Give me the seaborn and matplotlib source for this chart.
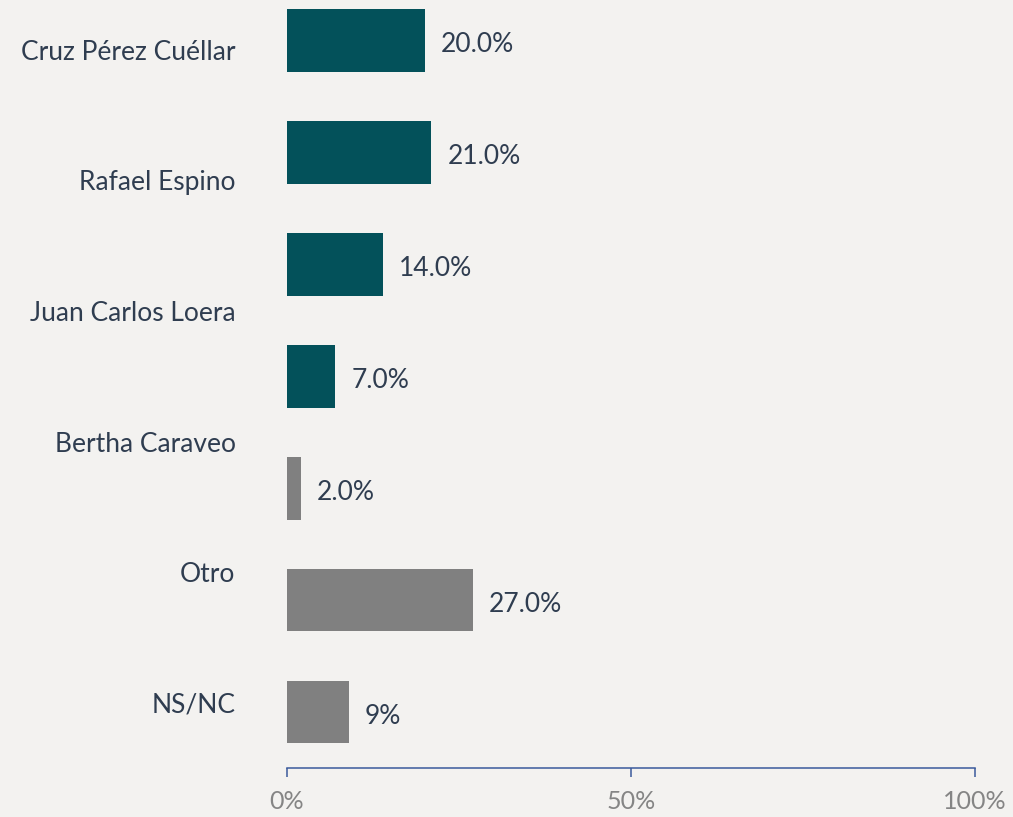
import numpy as np
import pandas as pd
import matplotlib
matplotlib.use("Agg")
import matplotlib.pyplot as plt
import seaborn as sns

# data
bars = ["Cruz Pérez Cuéllar", "Rafael Espino", "Juan Carlos Loera", "Bertha Caraveo",
        "(sin nombre)", "Otro", "NS/NC"]
values = [20.0, 21.0, 14.0, 7.0, 2.0, 27.0, 9.0]
value_labels = ["20.0%", "21.0%", "14.0%", "7.0%", "2.0%", "27.0%", "9%"]
axis_labels = ["Cruz Pérez Cuéllar", "Rafael Espino", "Juan Carlos Loera",
               "Bertha Caraveo", "Otro", "NS/NC"]
x_ticks = [0, 50, 100]
x_ticklabels = ["0%", "50%", "100%"]

teal = "#03515a"
grey = "#808080"
colors = [teal, teal, teal, teal, grey, grey, grey]
bg = "#f3f2f0"
navy = "#2f3d50"
blue = "#3a5a9c"

sns.set_style("white")
plt.rcParams['font.family'] = ['Lato', 'DejaVu Sans']

df = pd.DataFrame({"name": bars, "value": values})

fig = plt.figure(figsize=(10.13, 8.17), dpi=100, facecolor=bg)
ax = fig.add_axes([287/1013, 49/817, 688/1013, 768/817])
ax.set_facecolor(bg)

sns.barplot(data=df, x="value", y="name", hue="name", palette=colors,
            orient="h", width=0.56, legend=False, ax=ax, saturation=1,
            linewidth=0, edgecolor="none")

for cont, lab in zip(ax.containers, value_labels):
    anns = ax.bar_label(cont, labels=[lab], padding=11.5, fontsize=19, color=navy)
    for a in anns:
        a.xyann = (a.xyann[0], -3)

ax.set_xlim(0, 100)
ax.set_ylim(6.5, -0.362)

# the category labels sit on their own evenly spaced rows (6 labels over 7 bars)
n = len(axis_labels)
label_pos = [-0.5 + (i + 0.5) * len(bars) / n for i in range(n)]
ax.set_yticks(label_pos, labels=axis_labels)
ax.tick_params(axis="y", left=False, length=0, pad=37, labelsize=19, labelcolor=navy)

ax.set_xticks(x_ticks, labels=x_ticklabels)
ax.tick_params(axis="x", bottom=True, direction="out", length=6.5, width=1.1,
               color=blue, pad=9, labelsize=18, labelcolor="#858585")

for s in ["top", "right", "left"]:
    ax.spines[s].set_visible(False)
ax.spines["bottom"].set_color(blue)
ax.spines["bottom"].set_linewidth(1.1)
ax.set_xlabel("")
ax.set_ylabel("")

fig.savefig("out.png", dpi=100, facecolor=bg)
